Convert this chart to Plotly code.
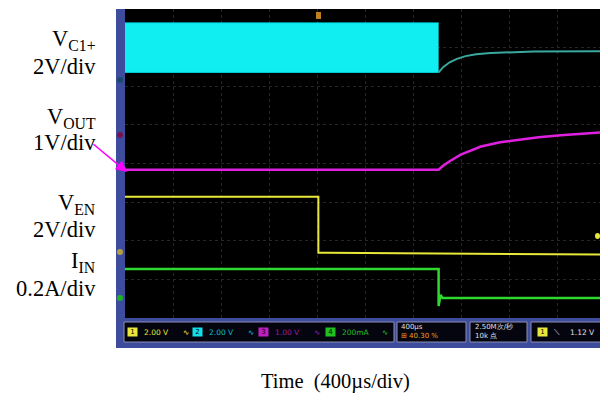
import plotly.graph_objects as go

W, H = 608, 401
OFF = 8  # page body margin of the html page

# ---- data (time in divisions, 400us/div; amplitude in screen divisions) ----
vc1_t = [0.0, 6.52]
vc1_hi = [7.64, 7.64]
vc1_lo = [6.36, 6.36]
vc1_after_t = [6.52, 6.62, 6.75, 6.9, 7.08, 7.3, 7.6, 8.5, 10.0]
vc1_after_v = [6.36, 6.5, 6.62, 6.71, 6.78, 6.83, 6.86, 6.9, 6.91]

vout_t = [0.0, 6.52, 6.6, 6.75, 6.98, 7.2, 7.4, 7.8, 8.23, 8.6, 9.06, 9.5, 10.0]
vout_v = [3.84, 3.84, 3.93, 4.06, 4.23, 4.35, 4.44, 4.55, 4.62, 4.68, 4.73, 4.77, 4.81]

ven_t = [0.0, 4.02, 4.02, 4.2, 10.0]
ven_v = [3.14, 3.14, 1.69, 1.69, 1.64]

iin_t = [0.0, 6.52, 6.52, 6.56, 6.6, 10.0]
iin_v = [1.27, 1.27, 0.31, 0.6, 0.52, 0.52]

labels = [("V<sub>C1+</sub>", 40), ("2V/div", 66), ("V<sub>OUT</sub>", 118), ("1V/div", 142),
          ("V<sub>EN</sub>", 204), ("2V/div", 229), ("I<sub>IN</sub>", 262), ("0.2A/div", 288)]
x_title = "Time  (400µs/div)"

# ---- layout helpers (reference pixel -> paper fraction) ----
FW, FH = W - 2 * OFF, H - 2 * OFF

def px(x):
    return (x - OFF) / FW

def py(y):
    return 1 - (y - OFF) / FH

SX0, SX1, SY0, SY1 = 125, 606, 9, 318

fig = go.Figure()
fig.add_trace(go.Scatter(x=vc1_t, y=vc1_lo, mode="lines", line=dict(color="#00e5ee", width=1), showlegend=False))
fig.add_trace(go.Scatter(x=vc1_t, y=vc1_hi, mode="lines", line=dict(color="#00e5ee", width=1),
                         fill="tonexty", fillcolor="#10eef2", showlegend=False))
fig.add_trace(go.Scatter(x=vc1_after_t, y=vc1_after_v, mode="lines", line=dict(color="#3aa89e", width=2), showlegend=False))
fig.add_trace(go.Scatter(x=vout_t, y=vout_v, mode="lines", line=dict(color="#e020e0", width=2.5), showlegend=False))
fig.add_trace(go.Scatter(x=ven_t, y=ven_v, mode="lines", line=dict(color="#e8e83a", width=2), showlegend=False))
fig.add_trace(go.Scatter(x=iin_t, y=iin_v, mode="lines", line=dict(color="#2ed82e", width=2.5), showlegend=False))

shapes = []
# blue frame
shapes.append(dict(type="rect", xref="paper", yref="paper", x0=px(116), x1=px(606), y0=py(348), y1=py(9),
                   fillcolor="#3e4c9e", line=dict(width=0), layer="below"))
# black screen
shapes.append(dict(type="rect", xref="paper", yref="paper", x0=px(SX0), x1=px(SX1), y0=py(SY1), y1=py(SY0),
                   fillcolor="#000000", line=dict(width=0), layer="below"))
# status boxes
for x0, x1 in [(124, 394), (397, 466), (470, 527), (531, 605)]:
    shapes.append(dict(type="rect", xref="paper", yref="paper", x0=px(x0), x1=px(x1), y0=py(342), y1=py(322),
                       fillcolor="#050510", line=dict(color="#8a8fb0", width=1), layer="below"))
# arrow
fig.add_annotation(x=px(127), y=py(172), ax=-35, ay=-29, xref="paper", yref="paper",
                   axref="pixel", ayref="pixel", showarrow=True, arrowhead=2, arrowsize=1.4,
                   arrowwidth=1.6, arrowcolor="#ff00ff", text="")

# left labels
for t, y in labels:
    fig.add_annotation(x=px(98), y=py(y), xref="paper", yref="paper", text=t, showarrow=False,
                       xanchor="right", yanchor="middle", font=dict(family="Liberation Serif", size=22.5, color="black"))
fig.add_annotation(x=px(335), y=py(381), xref="paper", yref="paper", text=x_title, showarrow=False,
                   xanchor="center", yanchor="middle", font=dict(family="Liberation Serif", size=20.5, color="black"))

# status texts
def stat(x, y, t, c, s=7.5):
    fig.add_annotation(x=px(x), y=py(y), xref="paper", yref="paper", text=t, showarrow=False,
                       xanchor="left", yanchor="middle", font=dict(family="DejaVu Sans", size=s, color=c))

def badge(x, y, t, bg, fg="black"):
    fig.add_annotation(x=px(x), y=py(y), xref="paper", yref="paper", text=t, showarrow=False,
                       xanchor="center", yanchor="middle", bgcolor=bg, borderpad=0,
                       font=dict(family="DejaVu Sans", size=7, color=fg))

badge(132, 332, " 1 ", "#e8e83a")
stat(142, 332, "2.00 V", "#e8e83a")
stat(181, 332, "∿", "#e8e83a")
badge(197, 332, " 2 ", "#10e0e8")
stat(207, 332, "2.00 V", "#10c0c8")
stat(246, 332, "∿", "#10c0c8")
badge(263, 332, " 3 ", "#c020c0")
stat(273, 332, "1.00 V", "#a01aa0")
stat(312, 332, "∿", "#a01aa0")
badge(330, 332, " 4 ", "#20c020")
stat(340, 332, "200mA", "#20c020")
stat(380, 332, "∿", "#20c020")
stat(399, 327, "400µs", "#e0e0e0", 7)
stat(399, 336, "⊞ 40.30 %", "#f0a020", 7)
stat(473, 327, "2.50M次/秒", "#e0e0e0", 7)
stat(473, 336, "10k 点", "#e0e0e0", 7)
badge(542, 332, " 1 ", "#e8e83a")
stat(552, 332, "⟍", "#e0e0e0")
stat(568, 332, "1.12 V", "#e0e0e0")

# channel markers on left strip
for y, c in [(80, "#1a4a6a"), (135, "#7a1050"), (252, "#b0a040"), (298, "#20b020")]:
    shapes.append(dict(type="circle", xref="paper", yref="paper", x0=px(117), x1=px(123), y0=py(y + 3), y1=py(y - 3),
                       fillcolor=c, line=dict(width=0)))
# trigger markers
shapes.append(dict(type="rect", xref="paper", yref="paper", x0=px(316), x1=px(321), y0=py(19), y1=py(12),
                   fillcolor="#c08020", line=dict(width=0)))
shapes.append(dict(type="circle", xref="paper", yref="paper", x0=px(595), x1=px(600), y0=py(239), y1=py(233),
                   fillcolor="#e8e83a", line=dict(width=0)))

fig.update_layout(
    width=FW, height=FH, margin=dict(l=0, r=0, t=0, b=0),
    paper_bgcolor="white", plot_bgcolor="rgba(0,0,0,0)",
    shapes=shapes,
    xaxis=dict(domain=[px(SX0), 1], range=[0, 10 * (FW + OFF - SX0) / (SX1 - SX0)], dtick=1, showgrid=True, griddash="dot",
               gridcolor="#262626", gridwidth=1, zeroline=False, showticklabels=False, ticks="", showline=False),
    yaxis=dict(domain=[py(SY1), py(SY0)], range=[0, 8], dtick=1, showgrid=True, griddash="dot",
               gridcolor="#262626", gridwidth=1, zeroline=False, showticklabels=False, ticks="", showline=False),
)
fig.write_html("out.html")
